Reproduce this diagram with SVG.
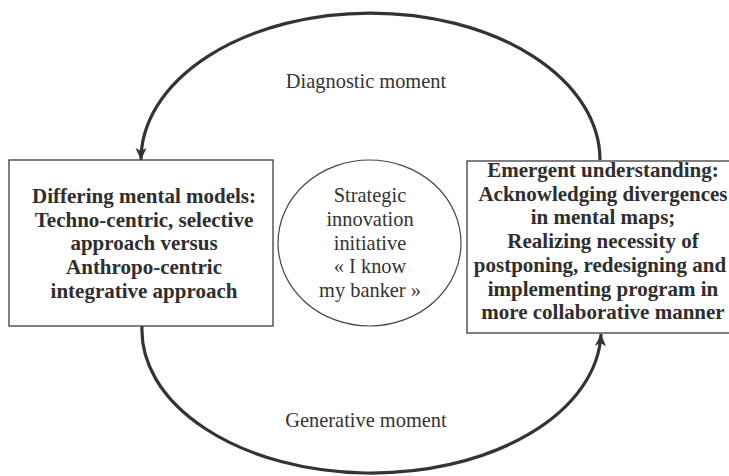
<svg xmlns="http://www.w3.org/2000/svg" width="729" height="476" viewBox="0 0 729 476">
<style>
.box{fill:#fff;stroke:#4a4a4a;stroke-width:1.4}
.conn{fill:none;stroke:#333;stroke-width:3.2}
.t{font-family:"Liberation Serif","Times New Roman",serif;font-size:20.4px;fill:#333;text-anchor:middle}
.b{font-weight:bold;font-size:21px;fill:#2e2e2e}
</style>
<defs>
<marker id="arr" markerUnits="userSpaceOnUse" markerWidth="14" markerHeight="14" viewBox="0 0 14 14" refX="13" refY="7" orient="auto">
<path d="M13,7 L1,1.5 L4,7 L1,12.5 Z" fill="#333"/>
</marker>
</defs>
<rect width="729" height="476" fill="#fff"/>
<g id="connectors">
<path class="conn" d="M600,160 A229.5 147 0 0 0 141,160" marker-end="url(#arr)"/>
<path class="conn" d="M142,326 A229.5 143 0 0 0 601,334" marker-end="url(#arr)"/>
</g>
<g id="label-diagnostic"><text class="t" x="366" y="88">Diagnostic moment</text></g>
<g id="label-generative"><text class="t" x="366" y="427">Generative moment</text></g>
<g id="node-left">
<rect class="box" x="9" y="160" width="264" height="166"/>
<text class="t b" x="144" y="203">Differing mental models:</text>
<text class="t b" x="144" y="227">Techno-centric, selective</text>
<text class="t b" x="144" y="250">approach versus</text>
<text class="t b" x="144" y="274">Anthropo-centric</text>
<text class="t b" x="144" y="298">integrative approach</text>
</g>
<g id="node-center">
<ellipse cx="369.5" cy="243" rx="91.5" ry="83" fill="#fff" stroke="#444" stroke-width="1.2"/>
<text class="t" x="370" y="202">Strategic</text>
<text class="t" x="370" y="226">innovation</text>
<text class="t" x="370" y="250">initiative</text>
<text class="t" x="370" y="273">« I know</text>
<text class="t" x="370" y="297">my banker »</text>
</g>
<g id="node-right">
<rect class="box" x="467" y="161" width="280" height="172"/>
<text class="t b" x="603" y="177">Emergent understanding:</text>
<text class="t b" x="603" y="200.7">Acknowledging divergences</text>
<text class="t b" x="603" y="224.4">in mental maps;</text>
<text class="t b" x="603" y="248">Realizing necessity of</text>
<text class="t b" x="600" y="271.8">postponing, redesigning and</text>
<text class="t b" x="603" y="295.5">implementing program in</text>
<text class="t b" x="603" y="319">more collaborative manner</text>
</g>
</svg>
